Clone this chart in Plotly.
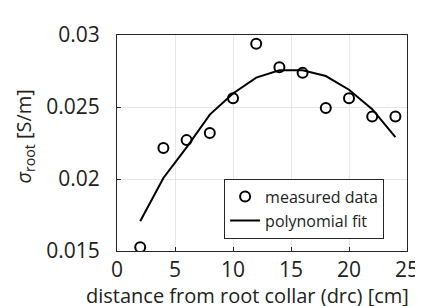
import plotly.graph_objects as go

distance_cm = [2, 4, 6, 8, 10, 12, 14, 16, 18, 20, 22, 24]
measured_sigma = [0.01526, 0.02215, 0.0227, 0.0232, 0.02561, 0.0294,
                  0.02776, 0.02737, 0.02493, 0.02561, 0.02434, 0.02434]
fit_sigma = [0.01706, 0.02007, 0.0222, 0.02447, 0.02594, 0.02704,
             0.02755, 0.02755, 0.02715, 0.0262, 0.02485, 0.02291]

font = "'Open Sans', sans-serif"
txt = "#222222"

fig = go.Figure()
fig.add_trace(go.Scatter(
    x=distance_cm, y=measured_sigma, mode="markers", name="measured data",
    marker=dict(symbol="circle-open", size=10, color="black",
                line=dict(width=2, color="black")),
))
fig.add_trace(go.Scatter(
    x=distance_cm, y=fit_sigma, mode="lines", name="polynomial fit",
    line=dict(color="black", width=2),
))

fig.update_layout(
    width=423, height=306,
    margin=dict(l=109, r=22, t=15, b=63),
    paper_bgcolor="white", plot_bgcolor="white",
    font=dict(family=font, size=21, color=txt),
    showlegend=True,
    legend=dict(x=0.921, y=0.057, xanchor="right", yanchor="bottom",
                bordercolor="#262626", borderwidth=1, bgcolor="white",
                font=dict(size=16, color=txt),
                tracegroupgap=0, itemwidth=30),
    annotations=[
        dict(text="distance from root collar (drc) [cm]", xref="paper",
             yref="paper", x=0.45, y=-0.205, xanchor="center",
             yanchor="middle", showarrow=False,
             font=dict(size=20, color=txt)),
        dict(text="<i>σ</i><sub>root</sub> [S/m]", xref="paper",
             yref="paper", x=-0.32, y=0.531, xanchor="center",
             yanchor="middle", showarrow=False, textangle=-90,
             font=dict(size=20, color=txt)),
    ],
)
fig.update_xaxes(
    range=[0, 25], tickvals=[0, 5, 10, 15, 20, 25],
    showgrid=True, gridcolor="#e6e6e6", gridwidth=1,
    showline=True, linecolor="#262626", linewidth=1, mirror=True,
    ticks="inside", ticklen=4, tickcolor="#262626",
    zeroline=False, ticklabelstandoff=0,
)
fig.update_yaxes(
    range=[0.015, 0.03], tickvals=[0.015, 0.02, 0.025, 0.03],
    ticktext=["0.015", "0.02", "0.025", "0.03"],
    showgrid=True, gridcolor="#e6e6e6", gridwidth=1,
    showline=True, linecolor="#262626", linewidth=1, mirror=True,
    ticks="inside", ticklen=4, tickcolor="#262626",
    zeroline=False, ticklabelstandoff=12,
)

fig.write_html("out.html")
